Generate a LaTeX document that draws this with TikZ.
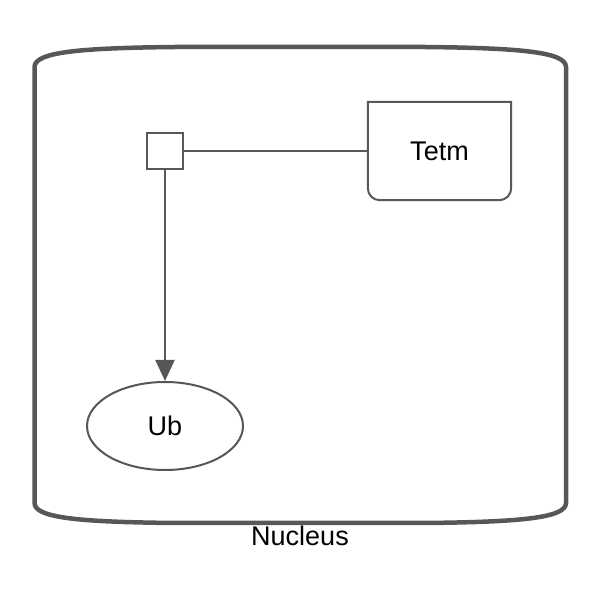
\documentclass[tikz,border=0pt]{standalone}
\usepackage{fontspec}
\setmainfont{Liberation Sans}
\usetikzlibrary{arrows.meta,shapes.geometric}
\definecolor{ln}{HTML}{575757}
\tikzset{
  every node/.style={font=\fontsize{27}{31}\selectfont},
  sq/.style={draw=ln, line width=2pt, minimum size=36pt, inner sep=0pt, fill=white},
  tbox/.style={minimum width=143pt, minimum height=98pt, inner sep=0pt},
  ell/.style={draw=ln, line width=2pt, ellipse, minimum width=156pt, minimum height=88pt, inner sep=0pt},
  conn/.style={draw=ln, line width=2pt},
  outer/.style={draw=ln, line width=4.5pt}
}
\begin{document}
\begin{tikzpicture}[x=1pt,y=1pt]
\useasboundingbox (0,0) rectangle (600,600);
% container
\draw[outer] (34.5,300) -- (34.5,533) .. controls (34.5,548) and (80,552) .. (175,553) -- (425,553) .. controls (520,552) and (566,548) .. (566,533) -- (566,97) .. controls (566,82) and (520,78) .. (425,77) -- (175,77) .. controls (80,78) and (34.5,82) .. (34.5,97) -- cycle;
\node[inner sep=0pt] (nuc) at (300,64) {Nucleus};
% nodes
\node[sq] (j) at (165,449) {};
\node[tbox] (t) at (439.5,449) {Tetm};
\draw[conn] (t.north west) -- ([yshift=12pt]t.south west) arc[start angle=180,end angle=270,radius=12pt] -- ([xshift=-12pt]t.south east) arc[start angle=270,end angle=360,radius=12pt] -- (t.north east) -- cycle;
\node[ell] (u) at (165,174) {Ub};
% connectors
\draw[conn] (j) -- (t);
\draw[conn, -{Triangle[length=21pt,width=19pt]}] (j) -- (u);
\end{tikzpicture}
\end{document}
